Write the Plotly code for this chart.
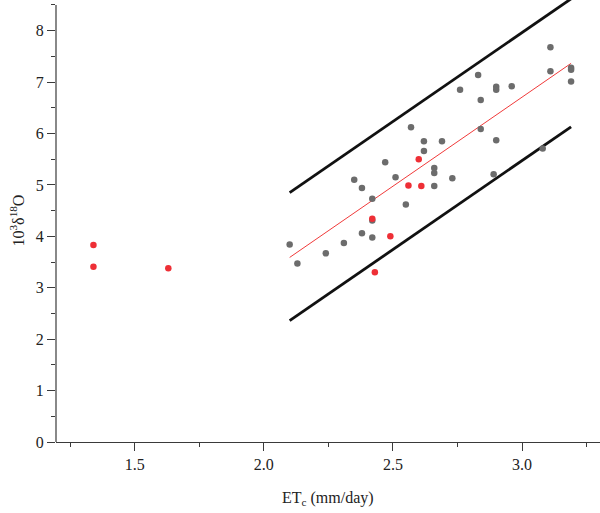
import plotly.graph_objects as go

# Data
gray_x = [3.11, 3.11, 3.19, 3.19, 3.19, 2.83, 2.76, 2.90, 2.90, 2.96, 2.84, 2.57, 2.84,
          2.62, 2.69, 2.90, 2.62, 3.08, 2.47, 2.66, 2.66, 2.51, 2.35, 2.38, 2.73, 2.89,
          2.66, 2.42, 2.55, 2.42, 2.10, 2.13, 2.24, 2.31, 2.38, 2.42]
gray_y = [7.68, 7.21, 7.28, 7.24, 7.01, 7.14, 6.85, 6.91, 6.85, 6.92, 6.65, 6.12, 6.09,
          5.85, 5.85, 5.87, 5.66, 5.71, 5.44, 5.33, 5.23, 5.15, 5.10, 4.94, 5.13, 5.21,
          4.98, 4.73, 4.62, 4.31, 3.84, 3.47, 3.67, 3.87, 4.06, 3.98]
red_x = [1.34, 1.34, 1.63, 2.60, 2.56, 2.61, 2.42, 2.49, 2.43]
red_y = [3.83, 3.41, 3.38, 5.50, 4.99, 4.98, 4.34, 4.00, 3.30]

line_x = [2.10, 3.19]
fit_y = [3.59, 7.365]
upper_y = [4.85, 8.62]
lower_y = [2.36, 6.13]

x_ticks = [1.5, 2.0, 2.5, 3.0]
x_labels = ["1.5", "2.0", "2.5", "3.0"]
y_ticks = [0, 1, 2, 3, 4, 5, 6, 7, 8]

font_family = "Liberation Serif"
axis_col = "#3a3a3a"

fig = go.Figure()
fig.add_trace(go.Scatter(x=line_x, y=upper_y, mode="lines",
                         line=dict(color="#111111", width=2.8), hoverinfo="skip"))
fig.add_trace(go.Scatter(x=line_x, y=lower_y, mode="lines",
                         line=dict(color="#111111", width=2.8), hoverinfo="skip"))
fig.add_trace(go.Scatter(x=line_x, y=fit_y, mode="lines",
                         line=dict(color="#f03a3a", width=1), hoverinfo="skip"))
fig.add_trace(go.Scatter(x=gray_x, y=gray_y, mode="markers",
                         marker=dict(color="#6c6c6c", size=6.5)))
fig.add_trace(go.Scatter(x=red_x, y=red_y, mode="markers",
                         marker=dict(color="#ee2f36", size=6.5)))

fig.update_layout(
    width=600, height=513,
    margin=dict(l=55.5, r=0, t=0, b=71.3),
    paper_bgcolor="white", plot_bgcolor="white",
    showlegend=False,
    font=dict(family=font_family, size=16, color="#222222"),
    xaxis=dict(range=[1.195, 3.302], tickvals=x_ticks, ticktext=x_labels,
               ticks="outside", ticklen=8, tickwidth=1.2, tickcolor=axis_col,
               showline=True, linecolor=axis_col, linewidth=1.2,
               showgrid=False, zeroline=False,
               minor=dict(dtick=0.25, tick0=0, ticks="outside", ticklen=4,
                          tickwidth=1.2, tickcolor=axis_col, showgrid=False),
               tickfont=dict(family=font_family, size=16, color="#222222")),
    yaxis=dict(range=[0, 8.597], tickvals=y_ticks,
               ticks="outside", ticklen=8, tickwidth=1.2, tickcolor=axis_col,
               showline=False, showgrid=False, zeroline=False,
               minor=dict(dtick=0.5, tick0=0, ticks="outside", ticklen=4,
                          tickwidth=1.2, tickcolor=axis_col, showgrid=False),
               tickfont=dict(family=font_family, size=16, color="#222222")),
    shapes=[dict(type="line", xref="paper", yref="y", x0=0, x1=0, y0=0, y1=8.5,
                 line=dict(color=axis_col, width=1.2))],
    annotations=[
        dict(text="ET<sub>c</sub> (mm/day)", xref="paper", yref="paper",
             x=0.5, y=0, xanchor="center", yanchor="middle", yshift=-56,
             showarrow=False, font=dict(family=font_family, size=16, color="#222222")),
        dict(text="10<sup>3</sup>δ<sup>18</sup>O", xref="paper", yref="paper",
             x=0, y=0.5, xanchor="center", yanchor="middle", xshift=-38.5,
             textangle=-90, showarrow=False,
             font=dict(family=font_family, size=16, color="#222222")),
    ],
)

fig.write_html("out.html")
